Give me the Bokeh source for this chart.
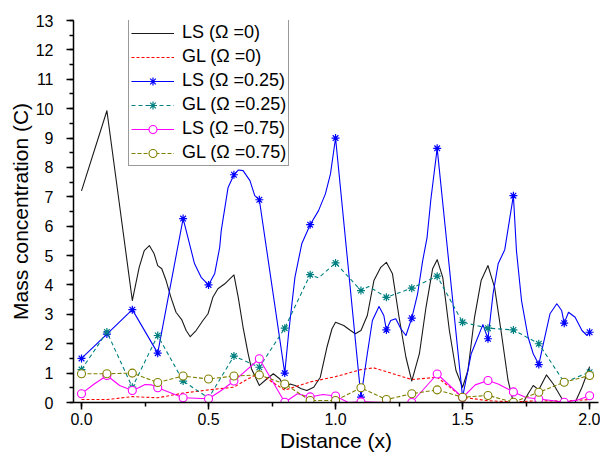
from bokeh.plotting import figure
from bokeh.models import Range1d, SingleIntervalTicker, NumeralTickFormatter, Legend, LegendItem
from bokeh.embed import file_html
from bokeh.resources import INLINE

# ---- data ----
# marker positions (every 0.1)
X = [0.0, 0.1, 0.2, 0.3, 0.4, 0.5, 0.6, 0.7, 0.8, 0.9, 1.0,
     1.1, 1.2, 1.3, 1.4, 1.5, 1.6, 1.7, 1.8, 1.9, 2.0]
LS025 = [1.5, 2.33, 3.16, 1.68, 6.26, 4.0, 7.75, 6.9, 1.0, 6.05, 9.0,
         0.18, 2.47, 2.87, 8.65, 0.18, 2.17, 7.04, 1.29, 2.7, 2.39]
GL025 = [1.12, 2.4, 0.52, 2.28, 0.73, 0.15, 1.58, 1.2, 2.53, 4.35, 4.75,
         3.81, 3.58, 3.89, 4.3, 2.73, 2.53, 2.47, 2.0, 0.69, 1.03]
LS075 = [0.3, 0.92, 0.41, 0.5, 0.16, 0.13, 0.73, 1.49, 0.01, 0.19, 0.22,
         0.02, 0.0, 0.0, 0.97, 0.17, 0.75, 0.36, 0.12, 0.01, 0.23]
GL075 = [0.98, 0.98, 1.0, 0.68, 0.9, 0.8, 0.9, 0.94, 0.63, 0.07, 0.07,
         0.5, 0.1, 0.3, 0.43, 0.18, 0.24, 0.01, 0.35, 0.69, 0.92]

# full curves
LS0_x = [0.0, 0.1, 0.2, 0.227, 0.247, 0.267, 0.286, 0.3, 0.316, 0.333, 0.352, 0.372,
         0.395, 0.412, 0.428, 0.451, 0.478, 0.498, 0.517, 0.537, 0.564, 0.6, 0.617,
         0.636, 0.655, 0.669, 0.7, 0.729, 0.755, 0.781, 0.8, 0.821, 0.841, 0.865,
         0.887, 0.914, 0.94, 0.966, 0.986, 1.0, 1.032, 1.059, 1.078, 1.1, 1.125,
         1.151, 1.178, 1.2, 1.224, 1.25, 1.277, 1.3, 1.33, 1.356, 1.382, 1.4, 1.422,
         1.448, 1.474, 1.5, 1.521, 1.547, 1.573, 1.6, 1.626, 1.653, 1.679, 1.7, 1.739,
         1.758, 1.778, 1.8, 1.83, 1.857, 1.9, 1.943, 1.97, 2.0]
LS0_y = [7.2, 9.93, 3.47, 4.6, 5.17, 5.34, 5.06, 4.66, 4.55, 4.15, 3.58, 3.07,
         2.81, 2.45, 2.24, 2.45, 2.79, 3.02, 3.58, 3.87, 4.04, 4.34, 3.58,
         2.56, 1.7, 1.15, 0.58, 0.8, 0.98, 0.8, 0.47, 0.63, 0.58, 0.47,
         0.41, 0.52, 0.86, 1.88, 2.51, 2.73, 2.62, 2.45, 2.34, 2.45, 2.96,
         4.15, 4.6, 4.77, 4.38, 2.9, 1.54, 0.73, 1.66, 3.24, 4.55, 4.86, 4.26,
         2.45, 1.09, 0.52, 1.09, 2.9, 4.15, 4.66, 3.92, 2.34, 0.75, 0.0, 0.0,
         0.3, 0.58, 0.43, 0.94, 0.63, 0.0, 0.0, 0.52, 1.22]

GL0_x = [0.0, 0.1, 0.2, 0.3, 0.4, 0.5, 0.6, 0.65, 0.7, 0.75, 0.8, 0.85, 0.9, 1.0,
         1.1, 1.15, 1.2, 1.3, 1.4, 1.5, 1.6, 1.7, 1.8, 1.9, 2.0]
GL0_y = [0.1, 0.1, 0.2, 0.16, 0.32, 0.43, 0.52, 0.78, 1.0, 0.7, 0.42, 0.56, 0.7, 0.88,
         1.12, 1.18, 1.05, 0.78, 0.86, 0.18, 0.06, 0.02, 0.06, 0.05, 0.1]

LS025_x = [0.0, 0.1, 0.2, 0.3, 0.4, 0.412, 0.445, 0.471, 0.5, 0.524, 0.544, 0.55, 0.577,
           0.6, 0.617, 0.636, 0.663, 0.682, 0.7, 0.8, 0.815, 0.84, 0.867, 0.9, 0.933,
           0.96, 0.98, 1.0, 1.1, 1.125, 1.145, 1.171, 1.19, 1.2, 1.217, 1.237, 1.257,
           1.277, 1.3, 1.323, 1.343, 1.36, 1.375, 1.4, 1.5, 1.534, 1.58, 1.6, 1.62,
           1.64, 1.666, 1.68, 1.7, 1.712, 1.732, 1.758, 1.778, 1.8, 1.818, 1.844,
           1.871, 1.89, 1.9, 1.917, 1.943, 1.97, 1.99, 2.0]
LS025_y = [1.5, 2.33, 3.16, 1.68, 6.26, 5.85, 4.72, 4.26, 4.0, 4.38, 5.28, 5.85, 7.32,
           7.75, 7.91, 7.89, 7.55, 7.04, 6.9, 1.0, 2.34, 4.26, 5.4, 6.05, 6.53,
           7.1, 7.78, 9.0, 0.18, 1.66, 2.79, 3.27, 2.96, 2.47, 2.79, 2.85, 2.51,
           2.28, 2.87, 3.7, 4.83, 5.6, 6.9, 8.65, 0.18, 1.66, 2.65, 2.17, 3.7,
           4.72, 5.2, 5.96, 7.04, 5.17, 3.47, 2.22, 1.66, 1.29, 2.0, 3.02,
           3.36, 3.13, 2.7, 3.07, 2.9, 2.45, 2.28, 2.39]

GL025_x = [0.0, 0.1, 0.2, 0.3, 0.4, 0.5, 0.6, 0.7, 0.8, 0.9, 0.933, 1.0, 1.1, 1.13,
           1.2, 1.3, 1.4, 1.5, 1.6, 1.7, 1.8, 1.9, 2.0]
GL025_y = [1.12, 2.4, 0.52, 2.28, 0.73, 0.15, 1.58, 1.2, 2.53, 4.35, 4.24, 4.75, 3.81, 3.95,
           3.58, 3.89, 4.3, 2.73, 2.53, 2.47, 2.0, 0.69, 1.03]

LS075_x = [0.0, 0.05, 0.1, 0.15, 0.2, 0.225, 0.25, 0.275, 0.3, 0.35, 0.4, 0.5, 0.55, 0.6,
           0.7, 0.8, 0.85, 0.9, 0.95, 1.0, 1.05, 1.1, 1.2, 1.3, 1.4, 1.5, 1.55, 1.6, 1.64,
           1.7, 1.75, 1.8, 1.85, 1.9, 1.95, 2.0]
LS075_y = [0.3, 0.63, 0.92, 0.58, 0.41, 0.5, 0.61, 0.6, 0.5, 0.33, 0.16, 0.13, 0.41, 0.73,
           1.49, 0.01, 0.3, 0.19, 0.27, 0.22, 0.0, 0.02, 0.0, 0.0, 0.97, 0.17, 0.6, 0.75, 0.63,
           0.36, 0.17, 0.12, 0.07, 0.01, 0.08, 0.23]

LABELS = ["LS (\u03a9 =0)", "GL (\u03a9 =0)", "LS (\u03a9 =0.25)",
          "GL (\u03a9 =0.25)", "LS (\u03a9 =0.75)", "GL (\u03a9 =0.75)"]

FONT = "Liberation Sans"

p = figure(width=600, height=460,
           x_range=Range1d(-0.0315, 2.035), y_range=Range1d(0, 13),
           output_backend="svg", toolbar_location=None,
           min_border_left=73, min_border_right=2, min_border_top=20, min_border_bottom=58)
p.outline_line_color = None
p.xgrid.visible = False
p.ygrid.visible = False
p.background_fill_color = "white"

p.xaxis.ticker = SingleIntervalTicker(interval=0.5, num_minor_ticks=2)
p.xaxis.formatter = NumeralTickFormatter(format="0.0")
p.yaxis.ticker = SingleIntervalTicker(interval=1, num_minor_ticks=2)
p.xaxis.axis_label = "Distance (x)"
p.yaxis.axis_label = "Mass concentration (C)"
for ax in (p.xaxis, p.yaxis):
    ax.axis_label_text_font = FONT
    ax.axis_label_text_font_size = "21px"
    ax.axis_label_text_font_style = "normal"
    ax.axis_label_text_color = "black"
    ax.major_label_text_font = FONT
    ax.major_label_text_font_size = "16px"
    ax.major_label_text_color = "black"
    ax.axis_line_color = "black"
    ax.axis_line_width = 1.5
    ax.major_tick_line_color = "black"
    ax.major_tick_line_width = 1.5
    ax.minor_tick_line_color = "black"
    ax.minor_tick_line_width = 1.5
    ax.major_tick_in = 0
    ax.major_tick_out = 7
    ax.minor_tick_in = 0
    ax.minor_tick_out = 4
p.xaxis.major_label_standoff = 3
p.xaxis.axis_label_standoff = 1
p.yaxis.major_label_standoff = 13
p.yaxis.axis_label_standoff = 1

r_ls0 = p.line(LS0_x, LS0_y, line_color="#1a1a1a", line_width=1.1, line_join="round")
r_gl0 = p.line(GL0_x, GL0_y, line_color="#ff0000", line_width=1.1, line_dash="3 2")
r_ls25 = p.line(LS025_x, LS025_y, line_color="#0000ff", line_width=1.1, line_join="round")
r_ls25m = p.scatter(X, LS025, marker="asterisk", size=8, line_color="#0000ff", line_width=1.2)
r_gl25 = p.line(GL025_x, GL025_y, line_color="#008080", line_width=1.1, line_dash="4 3")
r_gl25m = p.scatter(X, GL025, marker="asterisk", size=8, line_color="#008080", line_width=1.2)
r_ls75 = p.line(LS075_x, LS075_y, line_color="#ff00ff", line_width=1.1, line_join="round")
r_ls75m = p.scatter(X, LS075, marker="circle", size=8, line_color="#ff00ff",
                    fill_color="white", line_width=1.1)
r_gl75 = p.line(X, GL075, line_color="#808000", line_width=1.1, line_dash="4 2")
r_gl75m = p.scatter(X, GL075, marker="circle", size=8, line_color="#808000",
                    fill_color="white", line_width=1.1)

items = [
    LegendItem(label=LABELS[0], renderers=[r_ls0]),
    LegendItem(label=LABELS[1], renderers=[r_gl0]),
    LegendItem(label=LABELS[2], renderers=[r_ls25, r_ls25m]),
    LegendItem(label=LABELS[3], renderers=[r_gl25, r_gl25m]),
    LegendItem(label=LABELS[4], renderers=[r_ls75, r_ls75m]),
    LegendItem(label=LABELS[5], renderers=[r_gl75, r_gl75m]),
]
legend = Legend(items=items, location=(55, 236))
legend.border_line_color = "#333333"
legend.border_line_width = 1
legend.background_fill_alpha = 1
legend.label_text_font = FONT
legend.label_text_font_size = "18px"
legend.label_text_color = "black"
legend.glyph_width = 43
legend.glyph_height = 20
legend.label_height = 20
legend.label_standoff = 8
legend.padding = 2
legend.spacing = 3
legend.margin = 0
p.add_layout(legend)

open("out.html", "w").write(file_html(p, INLINE))
